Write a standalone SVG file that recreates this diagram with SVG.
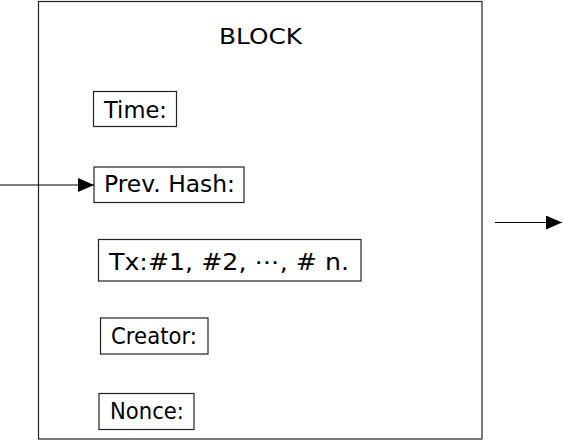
<svg xmlns="http://www.w3.org/2000/svg" width="563" height="446" viewBox="0 0 563 446">
<style>
.box{fill:none;stroke:#222;stroke-width:1.2}
.t{font-family:"DejaVu Sans","Liberation Sans",Arial,sans-serif;font-size:23px;fill:#000}
.c{stroke:#000;stroke-width:1.2;fill:none}
</style>
<defs>
<marker id="ah" markerWidth="16" markerHeight="14" refX="16" refY="7" orient="auto" markerUnits="userSpaceOnUse">
<path d="M0,0 L16,7 L0,14 Z" fill="#000"/>
</marker>
</defs>
<rect width="563" height="446" fill="#fff"/>
<g id="block">
<rect class="box" x="38.5" y="1.5" width="443.5" height="437.5"/>
<text class="t" x="219" y="44" textLength="83" lengthAdjust="spacingAndGlyphs" style="font-size:22px">BLOCK</text>
</g>
<g id="time">
<rect class="box" x="93.5" y="91.5" width="83" height="35"/>
<text class="t" x="104" y="117.5" textLength="63" lengthAdjust="spacingAndGlyphs">Time:</text>
</g>
<g id="prevhash">
<rect class="box" x="94" y="167" width="150" height="35.5"/>
<text class="t" x="104" y="192" textLength="131" lengthAdjust="spacingAndGlyphs">Prev.  Hash:</text>
</g>
<g id="tx">
<rect class="box" x="98.5" y="239.5" width="262.5" height="41.5"/>
<text class="t" x="109" y="269.5" textLength="240" lengthAdjust="spacingAndGlyphs">Tx:#1, #2, ⋯, # n.</text>
</g>
<g id="creator">
<rect class="box" x="100.5" y="318" width="107.5" height="36"/>
<text class="t" x="111" y="343.5" textLength="86" lengthAdjust="spacingAndGlyphs">Creator:</text>
</g>
<g id="nonce">
<rect class="box" x="99" y="393.5" width="95" height="36"/>
<text class="t" x="110" y="419" textLength="74" lengthAdjust="spacingAndGlyphs">Nonce:</text>
</g>
<g id="connectors">
<line class="c" x1="0" y1="185" x2="94" y2="185" marker-end="url(#ah)"/>
<line class="c" x1="495" y1="222.5" x2="562" y2="222.5" marker-end="url(#ah)"/>
</g>
</svg>
